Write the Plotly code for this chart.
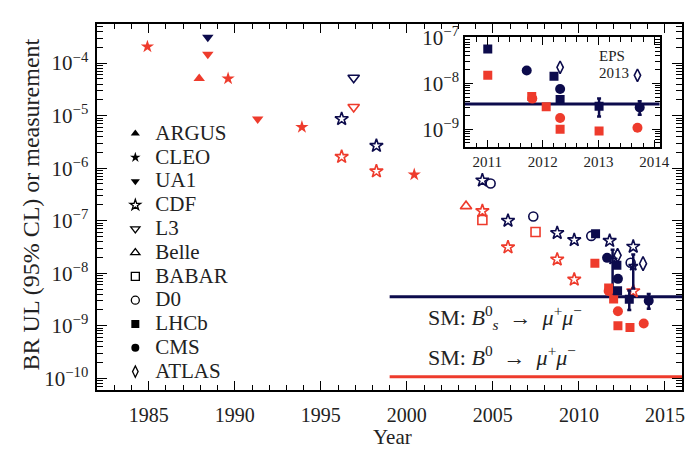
import plotly.graph_objects as go

RED = "#ee3b2c"
NAVY = "#0c0b4c"
FONT = "Liberation Serif, Times New Roman, serif"

# ---------------- main panel data (year, branching ratio) ----------------
argus_b0_x = [1987.93]; argus_b0_y = [5.07e-5]
cleo_b0_x = [1984.92, 1989.61, 1993.90, 2000.43]; cleo_b0_y = [2.06e-4, 5.07e-5, 6.05e-6, 7.55e-7]
ua1_bs_x = [1988.43]; ua1_bs_y = [3.11e-4]
ua1_b0_x = [1988.43, 1991.33]; ua1_b0_y = [1.47e-4, 8.65e-6]
cdf_bs_x = [1996.21, 1998.23, 2004.39, 2005.88, 2008.74, 2009.73, 2011.79, 2013.16]
cdf_bs_y = [8.65e-6, 2.67e-6, 5.86e-7, 1.0e-7, 5.84e-8, 4.28e-8, 4.15e-8, 3.21e-8]
cdf_b0_x = [1996.21, 1998.23, 2004.39, 2005.88, 2008.74, 2009.73, 2013.16]
cdf_b0_y = [1.65e-6, 8.73e-7, 1.53e-7, 3.12e-8, 1.83e-8, 7.59e-9, 4.56e-9]
cdf_meas_x = [2011.96, 2013.16]; cdf_meas_y = [1.8e-8, 1.37e-8]
cdf_meas_hi = [2.8e-8, 2.26e-8]; cdf_meas_lo = [3.85e-9, 5.12e-9]
l3_bs_x = [1996.91]; l3_bs_y = [5.28e-5]
l3_b0_x = [1996.91]; l3_b0_y = [1.46e-5]
belle_b0_x = [2003.44]; belle_b0_y = [1.89e-7]
babar_b0_x = [2004.39, 2007.48]; babar_b0_y = [1.03e-7, 6.08e-8]
d0_bs_x = [2004.87, 2007.35, 2010.72, 2013.01]; d0_bs_y = [5.09e-7, 1.2e-7, 5.13e-8, 1.58e-8]
lhcb_bs_x = [2010.97, 2012.21, 2012.25]; lhcb_bs_y = [5.66e-8, 1.42e-8, 4.62e-9]
lhcb_meas_x = [2012.93]; lhcb_meas_y = [3.2e-9]; lhcb_meas_hi = [4.7e-9]; lhcb_meas_lo = [2.0e-9]
lhcb_b0_x = [2010.93, 2011.73, 2012.02, 2012.27, 2012.97]
lhcb_b0_y = [1.54e-8, 5.2e-9, 3.24e-9, 1.0e-9, 9.3e-10]
cms_bs_x = [2011.64, 2012.27]; cms_bs_y = [1.96e-8, 7.81e-9]
cms_meas_x = [2014.06]; cms_meas_y = [3.0e-9]; cms_meas_hi = [4.0e-9]; cms_meas_lo = [2.1e-9]
cms_b0_x = [2011.73, 2012.27, 2013.77]; cms_b0_y = [4.6e-9, 1.89e-9, 1.1e-9]
atlas_bs_x = [2012.25, 2013.73]; atlas_bs_y = [2.19e-8, 1.52e-8]

# ---------------- inset data ----------------
in_lhcb_bs_x = [2011.01, 2012.20, 2012.31]; in_lhcb_bs_y = [5.7e-8, 1.44e-8, 4.45e-9]
in_lhcb_meas_x = [2013.01]; in_lhcb_meas_y = [3.2e-9]; in_lhcb_meas_hi = [4.7e-9]; in_lhcb_meas_lo = [1.9e-9]
in_lhcb_b0_x = [2011.01, 2011.80, 2012.06, 2012.31, 2013.01]
in_lhcb_b0_y = [1.51e-8, 5.22e-9, 3.1e-9, 9.95e-10, 9.2e-10]
in_cms_bs_x = [2011.71, 2012.31]; in_cms_bs_y = [1.92e-8, 7.6e-9]
in_cms_meas_x = [2013.74]; in_cms_meas_y = [3.0e-9]; in_cms_meas_hi = [4.1e-9]; in_cms_meas_lo = [2.07e-9]
in_cms_b0_x = [2011.81, 2012.31, 2013.70]; in_cms_b0_y = [4.67e-9, 1.76e-9, 1.08e-9]
in_atlas_bs_x = [2012.31, 2013.70]; in_atlas_bs_y = [2.26e-8, 1.51e-8]

# Standard Model predictions
SM_BS = 3.56e-9
SM_B0 = 1.07e-10
SM_START = 1999.0
MAIN_END = 2016.0
INSET_RANGE = [2010.6, 2014.1]

legend_names = ["ARGUS", "CLEO", "UA1", "CDF", "L3", "Belle", "BABAR", "D0", "LHCb", "CMS", "ATLAS"]
legend_symbols = ["triangle-up", "star", "triangle-down", "star-open", "triangle-down-open",
                  "triangle-up-open", "square-open", "circle-open", "square", "circle", "diamond-tall-open"]

SIZES = {"triangle-up": 10, "star": 10, "triangle-down": 10, "star-open": 10,
         "triangle-down-open": 10, "triangle-up-open": 10, "square-open": 9,
         "circle-open": 9, "square": 9, "circle": 10, "diamond-tall-open": 10}

fig = go.Figure()


def pts(x, y, symbol, color, xa="x", ya="y", hi=None, lo=None, size=None):
    err = None
    if hi is not None:
        err = dict(type="data", symmetric=False,
                   array=[h - v for h, v in zip(hi, y)],
                   arrayminus=[v - l for l, v in zip(lo, y)],
                   color=color, thickness=2.5, width=2)
    s = size if size is not None else SIZES[symbol]
    fig.add_trace(go.Scatter(
        x=x, y=y, mode="markers", xaxis=xa, yaxis=ya, showlegend=False,
        marker=dict(symbol=symbol, size=s, color=color,
                    line=dict(width=1.6 if "open" in symbol else 0, color=color)),
        error_y=err, hoverinfo="skip"))


# SM lines
fig.add_trace(go.Scatter(x=[SM_START, MAIN_END], y=[SM_BS, SM_BS], mode="lines",
                         line=dict(color=NAVY, width=3), showlegend=False, hoverinfo="skip"))
fig.add_trace(go.Scatter(x=[SM_START, MAIN_END], y=[SM_B0, SM_B0], mode="lines",
                         line=dict(color=RED, width=3), showlegend=False, hoverinfo="skip"))

# main points
pts(argus_b0_x, argus_b0_y, "triangle-up", RED)
pts(cleo_b0_x, cleo_b0_y, "star", RED)
pts(ua1_bs_x, ua1_bs_y, "triangle-down", NAVY)
pts(ua1_b0_x, ua1_b0_y, "triangle-down", RED)
pts(l3_bs_x, l3_bs_y, "triangle-down-open", NAVY)
pts(l3_b0_x, l3_b0_y, "triangle-down-open", RED)
pts(belle_b0_x, belle_b0_y, "triangle-up-open", RED)
pts(babar_b0_x, babar_b0_y, "square-open", RED)
pts(cdf_b0_x, cdf_b0_y, "star-open", RED)
pts(cdf_bs_x, cdf_bs_y, "star-open", NAVY)
pts(cdf_meas_x, cdf_meas_y, "star-open", NAVY, hi=cdf_meas_hi, lo=cdf_meas_lo, size=7)
pts(d0_bs_x, d0_bs_y, "circle-open", NAVY)
pts(lhcb_b0_x, lhcb_b0_y, "square", RED)
pts(cms_b0_x, cms_b0_y, "circle", RED)
pts(lhcb_bs_x, lhcb_bs_y, "square", NAVY)
pts(cms_bs_x, cms_bs_y, "circle", NAVY)
pts(atlas_bs_x, atlas_bs_y, "diamond-tall-open", NAVY)
pts(lhcb_meas_x, lhcb_meas_y, "square", NAVY, hi=lhcb_meas_hi, lo=lhcb_meas_lo)
pts(cms_meas_x, cms_meas_y, "circle", NAVY, hi=cms_meas_hi, lo=cms_meas_lo)

# inset
fig.add_trace(go.Scatter(x=INSET_RANGE, y=[SM_BS, SM_BS], mode="lines", xaxis="x2", yaxis="y2",
                         line=dict(color=NAVY, width=3), showlegend=False, hoverinfo="skip"))
pts(in_lhcb_b0_x, in_lhcb_b0_y, "square", RED, "x2", "y2")
pts(in_cms_b0_x, in_cms_b0_y, "circle", RED, "x2", "y2")
pts(in_lhcb_bs_x, in_lhcb_bs_y, "square", NAVY, "x2", "y2")
pts(in_cms_bs_x, in_cms_bs_y, "circle", NAVY, "x2", "y2")
pts(in_atlas_bs_x, in_atlas_bs_y, "diamond-tall-open", NAVY, "x2", "y2", size=9)
pts(in_lhcb_meas_x, in_lhcb_meas_y, "square", NAVY, "x2", "y2", hi=in_lhcb_meas_hi, lo=in_lhcb_meas_lo)
pts(in_cms_meas_x, in_cms_meas_y, "circle", NAVY, "x2", "y2", hi=in_cms_meas_hi, lo=in_cms_meas_lo)

# legend entries (black symbols)
for name, sym in zip(legend_names, legend_symbols):
    fig.add_trace(go.Scatter(x=[None], y=[None], mode="markers",
                             name='<span style="font-size:21px">%s</span>' % name,
                             marker=dict(symbol=sym, size=8, color="black",
                                         line=dict(width=1.3 if "open" in sym else 0, color="black"))))

W, H = 699, 452
L, R, T, B = 98.6, 692.0, 10.0, 388.3
IL, IR, IT, IB = 471.7, 669.3, 24.0, 137.7


def sup(e):
    return "10<sup>\u2212%d</sup>" % e


axis_common = dict(showline=True, linecolor="black", linewidth=1.5, mirror="allticks",
                   ticks="inside", tickcolor="black", showgrid=False, zeroline=False)

fig.update_layout(
    width=W, height=H, margin=dict(l=0, r=0, t=0, b=0),
    paper_bgcolor="white", plot_bgcolor="white",
    font=dict(family=FONT, color="#222222"),
    xaxis=dict(domain=[L / W, R / W], range=[1982, MAIN_END], anchor="y",
               tickvals=[1985, 1990, 1995, 2000, 2005, 2010, 2015], ticklen=10, tickwidth=1.2,
               ticklabelstandoff=6,
               minor=dict(dtick=1, ticks="inside", ticklen=6, tickcolor="black", tickwidth=1.2),
               tickfont=dict(size=20, family=FONT), **axis_common),
    yaxis=dict(domain=[1 - B / H, 1 - T / H], type="log", range=[-10.229, -3.249], anchor="x",
               tickvals=[10.0 ** -e for e in range(10, 3, -1)],
               ticktext=[sup(e) for e in range(10, 3, -1)], ticklen=10, tickwidth=1.2,
               ticklabelstandoff=3,
               minor=dict(dtick="D1", ticks="inside", ticklen=6, tickcolor="black", tickwidth=1),
               tickfont=dict(size=21, family=FONT), **axis_common),
    xaxis2=dict(domain=[IL / W, IR / W], range=INSET_RANGE, anchor="y2",
                tickvals=[2011, 2012, 2013, 2014], ticklen=8, tickwidth=1.2,
                minor=dict(dtick=0.2, ticks="inside", ticklen=5, tickcolor="black", tickwidth=1),
                tickfont=dict(size=15, family=FONT), **axis_common),
    yaxis2=dict(domain=[1 - IB / H, 1 - IT / H], type="log", range=[-9.398, -6.989], anchor="x2",
                tickvals=[1e-9, 1e-8, 1e-7], ticktext=[sup(9), sup(8), sup(7)], ticklen=8, tickwidth=1.2,
                minor=dict(dtick="D1", ticks="inside", ticklen=5, tickcolor="black", tickwidth=1),
                tickfont=dict(size=21, family=FONT), **axis_common),
    legend=dict(x=117 / W, y=1 - 106 / H, xanchor="left", yanchor="top",
                bgcolor="rgba(0,0,0,0)", borderwidth=0, tracegroupgap=0,
                font=dict(size=16, family=FONT, color="#222222")),
    showlegend=True,
)

ann = [
    dict(text="BR UL (95% CL) or measurement", x=31 / W, y=1 - 197 / H, xref="paper", yref="paper",
         textangle=-90, showarrow=False, font=dict(size=24, family=FONT), xanchor="center", yanchor="middle"),
    dict(text="Year", x=398 / W, y=1 - 437 / H, xref="paper", yref="paper",
         showarrow=False, font=dict(size=21, family=FONT), xanchor="center", yanchor="middle"),
    dict(text="SM: <i>B</i><sup>0</sup><sub><i>s</i></sub>\u2002\u2192\u2002<i>\u03bc</i><sup>+</sup><i>\u03bc</i><sup>\u2212</sup>",
         x=2001.1, y=-8.84, xref="x", yref="y", showarrow=False, xanchor="left", yanchor="middle",
         font=dict(size=22, family=FONT)),
    dict(text="SM: <i>B</i><sup>0</sup>\u2002\u2192\u2002<i>\u03bc</i><sup>+</sup><i>\u03bc</i><sup>\u2212</sup>",
         x=2001.1, y=-9.58, xref="x", yref="y", showarrow=False, xanchor="left", yanchor="middle",
         font=dict(size=22, family=FONT)),
    dict(text="EPS", x=2013.25, y=-7.40, xref="x2", yref="y2", showarrow=False,
         font=dict(size=15, family=FONT), xanchor="center", yanchor="middle"),
    dict(text="2013", x=2013.27, y=-7.77, xref="x2", yref="y2", showarrow=False,
         font=dict(size=15, family=FONT), xanchor="center", yanchor="middle"),
]
fig.update_layout(annotations=ann)

fig.write_html("out.html", config={"displayModeBar": False},
               post_script="document.body.style.margin='0';document.body.style.overflow='hidden';")
